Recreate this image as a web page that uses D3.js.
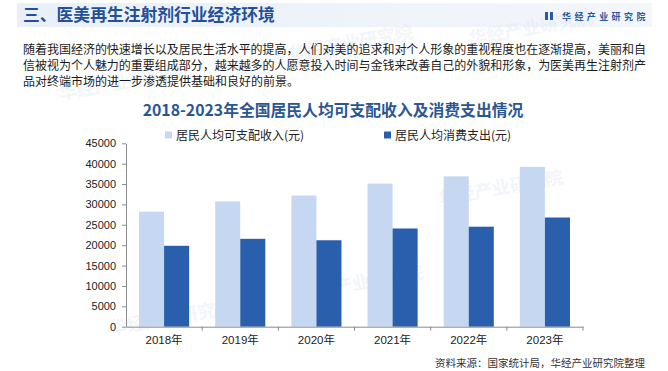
<!DOCTYPE html>
<html>
<head>
<meta charset="utf-8">
<script src="https://cdn.jsdelivr.net/npm/d3@7"></script>
<style>
  body { margin: 0; background: #fff; }
  svg { display: block; }
  .axis text { font-family: "Liberation Sans", "Noto Sans CJK SC", sans-serif; font-size: 11px; fill: #222; }
  .axis path, .axis line { stroke: #8c8c8c; }
</style>
</head>
<body>
<svg width="668" height="371"></svg>
<script>
var years = ["2018年", "2019年", "2020年", "2021年", "2022年", "2023年"];
var income = [28228, 30733, 32189, 35128, 36883, 39218];
var consume = [19853, 21559, 21210, 24100, 24538, 26796];
var yTicks = [0, 5000, 10000, 15000, 20000, 25000, 30000, 35000, 40000, 45000];
var seriesNames = ["居民人均可支配收入(元)", "居民人均消费支出(元)"];
var paragraph = [
  "随着我国经济的快速增长以及居民生活水平的提高，人们对美的追求和对个人形象的重视程度也在逐渐提高，美丽和自",
  "信被视为个人魅力的重要组成部分，越来越多的人愿意投入时间与金钱来改善自己的外貌和形象，为医美再生注射剂产",
  "品对终端市场的进一步渗透提供基础和良好的前景。"
];

var svg = d3.select("svg");
var cjk = "'Noto Sans CJK SC', sans-serif";

// header band
var grad = svg.append("defs").append("linearGradient").attr("id", "band");
grad.append("stop").attr("offset", "0%").attr("stop-color", "#e9f0f9");
grad.append("stop").attr("offset", "100%").attr("stop-color", "#f3f6fb");
svg.append("rect").attr("x", 17).attr("y", 3).attr("width", 635).attr("height", 24).attr("fill", "url(#band)");

// watermarks
var marks = [[60, 100], [235, 78], [110, 335], [290, 60], [470, 45], [440, 205], [300, 300]];
svg.append("g").selectAll("text").data(marks).enter().append("text")
    .attr("transform", function(d) { return "translate(" + d[0] + "," + d[1] + ") rotate(-10)"; })
    .attr("font-family", cjk).attr("font-weight", "bold").attr("font-size", 18)
    .attr("fill", "#dfe7f2").attr("opacity", 0.4)
    .text("华经产业研究院");

svg.append("text")
    .attr("x", 23).attr("y", 21)
    .attr("font-family", cjk).attr("font-weight", "bold").attr("font-size", 16.8)
    .attr("fill", "#24509a")
    .text("三、医美再生注射剂行业经济环境");

// logo
svg.append("rect").attr("x", 545).attr("y", 12).attr("width", 3).attr("height", 8).attr("fill", "#2a5aa0");
svg.append("rect").attr("x", 550).attr("y", 12).attr("width", 3).attr("height", 8).attr("fill", "#2a5aa0");
svg.append("text")
    .attr("x", 562).attr("y", 19.5)
    .attr("font-family", cjk).attr("font-weight", "bold").attr("font-size", 9)
    .attr("letter-spacing", 3.4)
    .attr("fill", "#2a5aa0")
    .text("华经产业研究院");

// paragraph
svg.append("g").selectAll("text").data(paragraph).enter().append("text")
    .attr("x", 23)
    .attr("y", function(d, i) { return 54 + i * 16; })
    .attr("font-family", cjk).attr("font-size", 12)
    .attr("fill", "#1a1a1a")
    .attr("textLength", function(d, i) { return i < 2 ? 623 : null; })
    .attr("lengthAdjust", "spacing")
    .text(function(d) { return d; });

// chart title
svg.append("text")
    .attr("x", 333).attr("y", 116)
    .attr("text-anchor", "middle")
    .attr("font-family", cjk).attr("font-weight", "bold").attr("font-size", 15.8)
    .attr("fill", "#2a5694")
    .text("2018-2023年全国居民人均可支配收入及消费支出情况");

var colors = ["#c6d8f1", "#2a5fae"];

// legend
var legend = svg.append("g").selectAll("g").data(seriesNames).enter().append("g")
    .attr("transform", function(d, i) { return "translate(" + (i ? 384 : 165) + ",135)"; });
legend.append("rect").attr("x", 0).attr("y", -3.5).attr("width", 7).attr("height", 7)
    .attr("fill", function(d, i) { return colors[i]; });
legend.append("text").attr("x", 11).attr("y", 4.5)
    .attr("font-family", cjk).attr("font-size", 12).attr("fill", "#222")
    .text(function(d) { return d; });

// scales
var y = d3.scaleLinear().domain([0, 45000]).range([326.7, 143.3]);
var x0 = d3.scaleBand().domain(years).range([126, 583]);
var x1 = d3.scaleBand().domain([0, 1]).range([0, x0.bandwidth()]).paddingOuter(0.52);

var data = years.map(function(d, i) { return {year: d, values: [income[i], consume[i]]}; });

svg.append("g").selectAll("g").data(data).enter().append("g")
    .attr("transform", function(d) { return "translate(" + x0(d.year) + ",0)"; })
  .selectAll("rect")
  .data(function(d) { return d.values.map(function(v, k) { return {k: k, v: v}; }); })
  .enter().append("rect")
    .attr("x", function(d) { return x1(d.k); })
    .attr("y", function(d) { return y(d.v); })
    .attr("width", x1.bandwidth())
    .attr("height", function(d) { return y(0) - y(d.v); })
    .attr("fill", function(d) { return colors[d.k]; });

// axes
svg.append("g").attr("class", "axis")
    .attr("transform", "translate(126,0)")
    .call(d3.axisLeft(y).tickValues(yTicks).tickSize(4).tickPadding(6).tickSizeOuter(0).tickFormat(d3.format("d")));

var xAxis = svg.append("g").attr("class", "axis")
    .attr("transform", "translate(0," + y(0) + ")")
    .call(d3.axisBottom(x0).tickSize(0).tickPadding(9).tickSizeOuter(0));
xAxis.selectAll(".tick text").style("font-size", "11.5px");
xAxis.selectAll(".edge").data(years).enter().append("line")
    .attr("x1", function(d) { return x0(d) + x0.bandwidth(); })
    .attr("x2", function(d) { return x0(d) + x0.bandwidth(); })
    .attr("y1", 0).attr("y2", 4)
    .attr("stroke", "#8c8c8c");

// source
svg.append("text")
    .attr("x", 645).attr("y", 367)
    .attr("text-anchor", "end")
    .attr("font-family", cjk).attr("font-size", 10.5)
    .attr("fill", "#333")
    .text("资料来源：国家统计局，华经产业研究院整理");
</script>
</body>
</html>
